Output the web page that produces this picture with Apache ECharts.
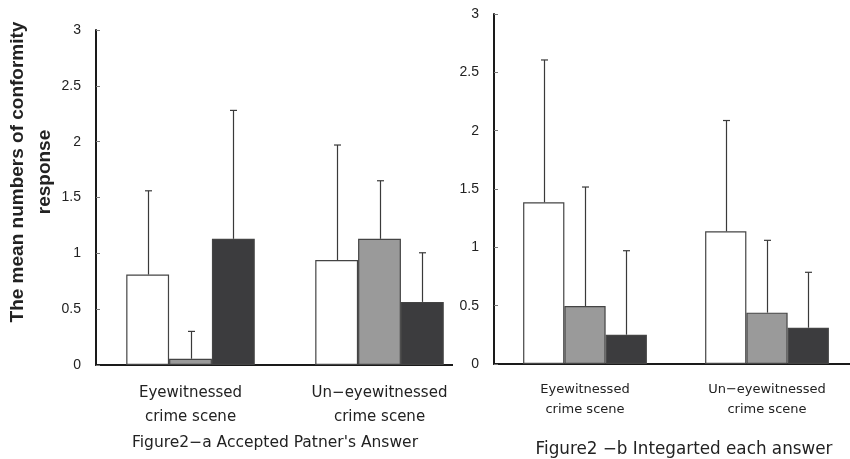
<!DOCTYPE html>
<html>
<head>
<meta charset="utf-8">
<script src="https://cdn.jsdelivr.net/npm/echarts@6/dist/echarts.min.js"></script>
<style>
  html, body { margin: 0; padding: 0; background: #fff; }
  #main { width: 850px; height: 459px; }
</style>
</head>
<body>
<div id="main"></div>
<script>
// categories shared by both panels
var categories = ['Eyewitnessed\ncrime scene', 'Un\u2212eyewitnessed\ncrime scene'];

// Figure2-a Accepted Patner's Answer (means and SD, per category)
var aWhite = [0.81, 0.94];
var aWhiteSd = [0.75, 1.03];
var aGrey = [0.056, 1.13];
var aGreySd = [0.245, 0.52];
var aDark = [1.13, 0.565];
var aDarkSd = [1.15, 0.44];

// Figure2 -b Integarted each answer
var bWhite = [1.386, 1.137];
var bWhiteSd = [1.22, 0.95];
var bGrey = [0.497, 0.44];
var bGreySd = [1.02, 0.62];
var bDark = [0.251, 0.311];
var bDarkSd = [0.72, 0.475];

var colors = ['#ffffff', '#9a9a9a', '#3c3c3e'];
var gap = 0.32; // barCategoryGap

// [category, bar index, mean, mean + sd]
function errData(means, sds) {
  var out = [];
  for (var k = 0; k < means.length; k++) {
    for (var c = 0; c < means[k].length; c++) {
      out.push([c, k, means[k][c], means[k][c] + sds[k][c]]);
    }
  }
  return out;
}

function renderErr(params, api) {
  var c = api.value(0), k = api.value(1);
  var base = api.coord([c, api.value(2)]);
  var top = api.coord([c, api.value(3)]);
  var band = api.size([1, 0])[0];
  var bw = band * (1 - gap) / 3;
  var x = Math.round(base[0] + (k - 1) * bw) + 0.5;
  var st = { stroke: '#3a3a3a', lineWidth: 1.2 };
  return {
    type: 'group',
    children: [
      { type: 'line', shape: { x1: x, y1: base[1], x2: x, y2: top[1] }, style: st },
      { type: 'line', shape: { x1: x - 3.5, y1: top[1], x2: x + 3.5, y2: top[1] }, style: st }
    ]
  };
}

function barSeries(data, idx, grid) {
  return {
    type: 'bar',
    xAxisIndex: grid,
    yAxisIndex: grid,
    data: data,
    barGap: '0%',
    barCategoryGap: '32%',
    itemStyle: { color: colors[idx], borderColor: '#444', borderWidth: 1.2 },
    silent: true
  };
}

var yAxisBase = {
  type: 'value',
  min: 0,
  max: 3,
  interval: 0.5,
  axisLine: { show: true, lineStyle: { color: '#1a1a1a', width: 2 } },
  axisTick: { show: true, inside: true, length: 4, lineStyle: { color: '#777' } },
  axisLabel: { fontFamily: 'Liberation Sans', fontSize: 14, color: '#222', margin: 15 },
  splitLine: { show: false }
};

var myChart = echarts.init(document.getElementById('main'));
myChart.setOption({
  animation: false,
  backgroundColor: '#fff',
  grid: [
    { left: 96, top: 30, width: 378, height: 335, outerBoundsMode: 'none' },
    { left: 494, top: 14, width: 364, height: 350, outerBoundsMode: 'none' }
  ],
  xAxis: [
    {
      type: 'category', gridIndex: 0, data: categories, z: 0,
      axisLine: { lineStyle: { color: '#1a1a1a', width: 2 } },
      axisTick: { inside: true, length: 5, lineStyle: { color: '#777' } },
      axisLabel: { fontFamily: 'DejaVu Sans', fontSize: 15, color: '#222', margin: 16, lineHeight: 24 }
    },
    {
      type: 'category', gridIndex: 1, data: categories,
      axisLine: { lineStyle: { color: '#1a1a1a', width: 2 } },
      axisTick: { inside: true, length: 5, lineStyle: { color: '#777' } },
      axisLabel: { fontFamily: 'DejaVu Sans', fontSize: 13, color: '#222', margin: 16, lineHeight: 20 }
    }
  ],
  yAxis: [
    Object.assign({ gridIndex: 0 }, yAxisBase),
    Object.assign({ gridIndex: 1, z: 5 }, yAxisBase)
  ],
  series: [
    barSeries(aWhite, 0, 0),
    barSeries(aGrey, 1, 0),
    barSeries(aDark, 2, 0),
    {
      type: 'custom', xAxisIndex: 0, yAxisIndex: 0, z: 4, silent: true,
      renderItem: renderErr,
      data: errData([aWhite, aGrey, aDark], [aWhiteSd, aGreySd, aDarkSd])
    },
    barSeries(bWhite, 0, 1),
    barSeries(bGrey, 1, 1),
    barSeries(bDark, 2, 1),
    {
      type: 'custom', xAxisIndex: 1, yAxisIndex: 1, z: 4, silent: true,
      renderItem: renderErr,
      data: errData([bWhite, bGrey, bDark], [bWhiteSd, bGreySd, bDarkSd])
    }
  ],
  graphic: [
    // the left panel's axis stops short of the right panel
    { type: 'rect', z: 1, shape: { x: 453, y: 358, width: 24, height: 10 }, style: { fill: '#fff' } },
    {
      type: 'text', x: 31, y: 172, rotation: Math.PI / 2,
      style: {
        text: 'The mean numbers of conformity\nresponse',
        fontFamily: 'Liberation Sans', fontWeight: 'bold', fontSize: 19, lineHeight: 27,
        fill: '#222', align: 'center', verticalAlign: 'middle'
      }
    },
    {
      type: 'text', x: 275, y: 443,
      style: {
        text: 'Figure2\u2212a Accepted Patner\'s Answer',
        fontFamily: 'DejaVu Sans', fontSize: 15.5, fill: '#222', align: 'center', verticalAlign: 'middle'
      }
    },
    {
      type: 'text', x: 684, y: 450,
      style: {
        text: 'Figure2 \u2212b Integarted each answer',
        fontFamily: 'DejaVu Sans', fontSize: 16.8, fill: '#222', align: 'center', verticalAlign: 'middle'
      }
    }
  ]
});
window.addEventListener('resize', function () {
  myChart.resize();
});
</script>
</body>
</html>
